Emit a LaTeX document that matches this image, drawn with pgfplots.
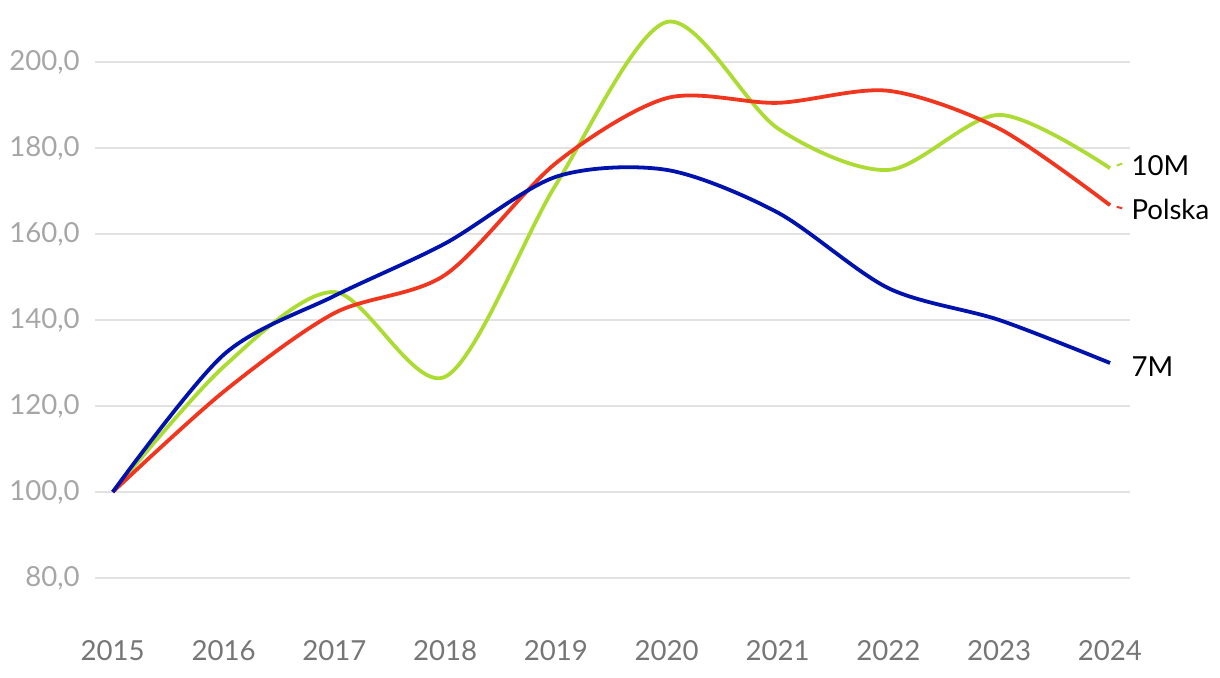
\documentclass[border=0pt]{standalone}
\usepackage{fontspec}
\setmainfont{Lato}
\usepackage{pgfplots}
\pgfplotsset{compat=1.18}

\definecolor{zielony}{RGB}{172,220,52}
\definecolor{czerwony}{RGB}{240,54,30}
\definecolor{granat}{RGB}{0,18,172}
\definecolor{siatka}{RGB}{226,226,226}
\definecolor{osy}{RGB}{166,166,166}
\definecolor{osx}{RGB}{118,118,118}

\begin{document}
\begin{tikzpicture}
\begin{axis}[
  at={(0,0)}, anchor=south west,
  scale only axis,
  width=517.5pt, height=305.3pt,
  xmin=2014.84, xmax=2024.18,
  ymin=70, ymax=212,
  axis line style={draw=none},
  major tick length=0pt,
  xtick={2015,...,2024},
  ytick={80,100,...,200},
  ymajorgrids,
  grid style={siatka, line width=1pt},
  font=\fontsize{13.8pt}{16pt}\selectfont,
  /pgf/number format/assume math mode=true,
  xticklabel style={/pgf/number format/1000 sep={}, text=osx, inner sep=0pt, yshift=-9.5pt},
  yticklabel style={/pgf/number format/.cd, fixed, fixed zerofill, precision=1, use comma, 1000 sep={}, /tikz/.cd, text=osy, inner sep=0pt, xshift=-7.5pt},
  xticklabel={\pgfmathprintnumber[1000 sep={}]{\tick}},
  clip=false,
]
\addplot[zielony, line width=1.9pt, smooth] coordinates {
(2015,100) (2016,129.1) (2017,146.5) (2018,126.8) (2019,171.5)
(2020,209.3) (2021,184.6) (2022,174.9) (2023,187.7) (2024,175.3)
};
\addplot[czerwony, line width=1.9pt, smooth] coordinates {
(2015,100) (2016,123.3) (2017,141.6) (2018,150.5) (2019,176.5)
(2020,191.6) (2021,190.5) (2022,193.3) (2023,184.5) (2024,166.7)
};
\addplot[granat, line width=1.9pt, smooth] coordinates {
(2015,100) (2016,131.9) (2017,145.6) (2018,157.8) (2019,173.3)
(2020,174.9) (2021,165.0) (2022,147.4) (2023,140.0) (2024,130.0)
};
% krotkie odnosniki do etykiet
\addplot[zielony, line width=1pt] coordinates {(2024.06,175.9) (2024.11,176.4)};
\addplot[czerwony, line width=1pt] coordinates {(2024.06,166.3) (2024.11,166.0)};
\node[anchor=west, inner sep=0pt] at (axis cs:2024.19,175.8) {10M};
\node[anchor=west, inner sep=0pt] at (axis cs:2024.19,165.6) {Polska};
\node[anchor=west, inner sep=0pt] at (axis cs:2024.19,129.1) {7M};
\end{axis}
\pgfresetboundingbox
\path (-47.5pt,-28.5pt) rectangle (562.5pt,310.5pt);
\end{tikzpicture}
\end{document}
